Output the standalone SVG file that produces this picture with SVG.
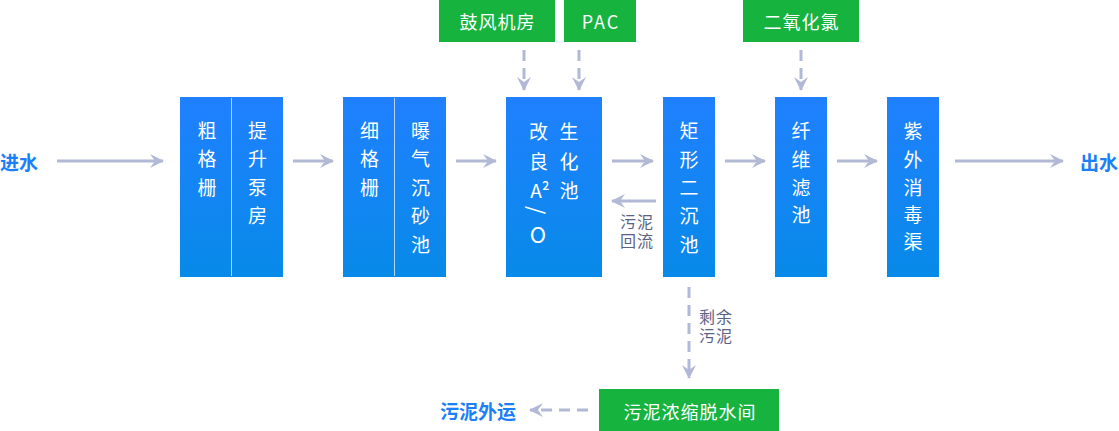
<svg xmlns="http://www.w3.org/2000/svg" width="1119" height="431" viewBox="0 0 1119 431">
<defs>
<linearGradient id="bg" x1="0" y1="0" x2="0" y2="1">
<stop offset="0" stop-color="#2080ff"/>
<stop offset="1" stop-color="#078ae8"/>
</linearGradient>
<marker id="ah" viewBox="0 0 14 14" refX="13" refY="7" markerWidth="14" markerHeight="14" markerUnits="userSpaceOnUse" orient="auto">
<path d="M0,0 L14,7 L0,14 L5,7 Z" fill="#b2b9d6"/>
</marker>
<style>
.box{fill:url(#bg)}
.div{stroke:#cfe3ff;stroke-width:1;opacity:0.85}
.g{fill:#16b33f}
.wt{fill:#ffffff;font-family:"Noto Sans CJK SC","Noto Sans",sans-serif;font-size:19px;text-anchor:middle;dominant-baseline:central}
.gt{fill:#ffffff;font-family:"Noto Sans CJK SC","Noto Sans",sans-serif;font-size:18px;text-anchor:middle;dominant-baseline:central;letter-spacing:1px}
.bt{fill:#1b7ff7;font-family:"Noto Sans CJK SC","Noto Sans",sans-serif;font-size:19px;font-weight:bold;dominant-baseline:central}
.lt{fill:#5b6384;font-family:"Noto Sans CJK SC","Noto Sans",sans-serif;font-size:16px;letter-spacing:1px}
.ar{stroke:#b2b9d6;stroke-width:3;fill:none;marker-end:url(#ah)}
.da{stroke:#b2b9d6;stroke-width:3;fill:none;stroke-dasharray:11 7;marker-end:url(#ah)}
</style>
</defs>
<rect width="1119" height="431" fill="#ffffff"/>

<g id="connectors">
<line class="ar" x1="57" y1="161" x2="163" y2="161"/>
<line class="ar" x1="293" y1="161" x2="333" y2="161"/>
<line class="ar" x1="456" y1="161" x2="496" y2="161"/>
<line class="ar" x1="612" y1="161" x2="653" y2="161"/>
<line class="ar" x1="725" y1="161" x2="765" y2="161"/>
<line class="ar" x1="837" y1="161" x2="877" y2="161"/>
<line class="ar" x1="955" y1="161" x2="1063" y2="161"/>
<line class="ar" x1="656" y1="201" x2="612" y2="201"/>
<line class="da" x1="524" y1="50" x2="524" y2="90"/>
<line class="da" x1="579" y1="50" x2="579" y2="90"/>
<line class="da" x1="801" y1="50" x2="801" y2="90"/>
<line class="da" x1="689" y1="287" x2="689" y2="378"/>
<line class="da" x1="588" y1="410" x2="530" y2="410"/>
</g>

<g id="in"><text class="bt" x="0" y="161">进水</text></g>
<g id="out"><text class="bt" x="1080" y="161">出水</text></g>

<g id="n1">
<rect class="box" x="180" y="97" width="103" height="180"/>
<line class="div" x1="231.5" y1="98" x2="231.5" y2="276"/>
<text class="wt" x="207" y="129">粗</text>
<text class="wt" x="207" y="157.5">格</text>
<text class="wt" x="207" y="186">栅</text>
<text class="wt" x="257.5" y="129">提</text>
<text class="wt" x="257.5" y="157.5">升</text>
<text class="wt" x="257.5" y="186">泵</text>
<text class="wt" x="257.5" y="214.5">房</text>
</g>

<g id="n2">
<rect class="box" x="343" y="97" width="103" height="180"/>
<line class="div" x1="394.5" y1="98" x2="394.5" y2="276"/>
<text class="wt" x="369.5" y="129">细</text>
<text class="wt" x="369.5" y="157.5">格</text>
<text class="wt" x="369.5" y="186">栅</text>
<text class="wt" x="420.5" y="129">曝</text>
<text class="wt" x="420.5" y="157.5">气</text>
<text class="wt" x="420.5" y="186">沉</text>
<text class="wt" x="420.5" y="214.5">砂</text>
<text class="wt" x="420.5" y="243">池</text>
</g>

<g id="n3">
<rect class="box" x="506" y="97" width="96" height="180"/>
<text class="wt" x="538.5" y="130">改</text>
<text class="wt" x="538.5" y="160">良</text>
<text class="wt" x="540" y="189">A²</text>
<text class="wt" x="538" y="210" transform="rotate(90 538 210)" style="font-size:21px">/</text>
<text class="wt" x="538" y="233" style="font-size:22px">O</text>
<text class="wt" x="569" y="130">生</text>
<text class="wt" x="569" y="160">化</text>
<text class="wt" x="569" y="189">池</text>
</g>

<g id="n4">
<rect class="box" x="663" y="97" width="52" height="180"/>
<text class="wt" x="689" y="129.5">矩</text>
<text class="wt" x="689" y="158.5">形</text>
<text class="wt" x="689" y="186">二</text>
<text class="wt" x="689" y="214">沉</text>
<text class="wt" x="689" y="243">池</text>
</g>

<g id="n5">
<rect class="box" x="775" y="97" width="52" height="180"/>
<text class="wt" x="801" y="129.5">纤</text>
<text class="wt" x="801" y="158.5">维</text>
<text class="wt" x="801" y="186">滤</text>
<text class="wt" x="801" y="213.5">池</text>
</g>

<g id="n6">
<rect class="box" x="887" y="97" width="52" height="180"/>
<text class="wt" x="913" y="129.5">紫</text>
<text class="wt" x="913" y="158.5">外</text>
<text class="wt" x="913" y="186">消</text>
<text class="wt" x="913" y="213">毒</text>
<text class="wt" x="913" y="240">渠</text>
</g>

<g id="s1">
<rect class="g" x="439" y="0" width="116" height="42"/>
<text class="gt" x="497.5" y="21">鼓风机房</text>
</g>
<g id="s2">
<rect class="g" x="564" y="0" width="72" height="42"/>
<text class="gt" x="601" y="21" style="letter-spacing:2px">PAC</text>
</g>
<g id="s3">
<rect class="g" x="743" y="0" width="116" height="42"/>
<text class="gt" x="801.5" y="21">二氧化氯</text>
</g>
<g id="s4">
<rect class="g" x="599" y="389" width="180" height="42"/>
<text class="gt" x="690" y="411">污泥浓缩脱水间</text>
</g>

<g id="l1">
<text class="lt" x="620" y="228"><tspan x="620">污泥</tspan><tspan x="620" dy="19">回流</tspan></text>
</g>
<g id="l2">
<text class="lt" x="699" y="323"><tspan x="699">剩余</tspan><tspan x="699" dy="19">污泥</tspan></text>
</g>
<g id="out2"><text class="bt" x="440" y="410">污泥外运</text></g>
</svg>
